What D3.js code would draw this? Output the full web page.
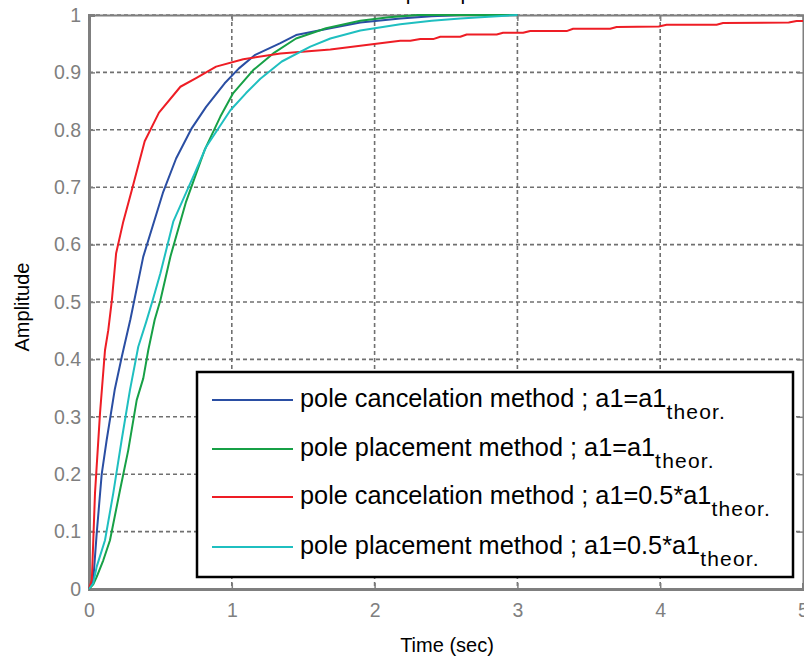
<!DOCTYPE html>
<html>
<head>
<meta charset="utf-8">
<script src="https://cdn.jsdelivr.net/npm/d3@7"></script>
<style>
  body { margin: 0; background: #fff; }
  svg { display: block; }
  text { font-family: "Liberation Sans", Arial, Helvetica, sans-serif; }
</style>
</head>
<body>
<svg width="804" height="657"></svg>
<script>
// time / amplitude
const blueT  = [0, 0.03, 0.054, 0.089, 0.124, 0.18, 0.23, 0.29, 0.38, 0.52, 0.61, 0.72, 0.82, 0.95, 1.05, 1.16, 1.34, 1.45, 1.69, 1.9, 2.18, 2.4, 2.6, 3.0];
const blueY  = [0, 0.016, 0.097, 0.2, 0.26, 0.347, 0.405, 0.47, 0.579, 0.692, 0.75, 0.803, 0.84, 0.881, 0.907, 0.93, 0.951, 0.965, 0.977, 0.987, 0.994, 0.998, 1.0, 1.0];

const greenT = [0, 0.03, 0.054, 0.1, 0.147, 0.217, 0.275, 0.334, 0.38, 0.415, 0.46, 0.5, 0.57, 0.68, 0.81, 0.92, 1.01, 1.15, 1.29, 1.45, 1.66, 1.9, 2.1, 2.3, 2.6, 3.0];
const greenY = [0, 0.008, 0.021, 0.05, 0.085, 0.172, 0.242, 0.329, 0.367, 0.416, 0.469, 0.503, 0.579, 0.675, 0.765, 0.823, 0.864, 0.904, 0.933, 0.959, 0.977, 0.99, 0.996, 1.0, 1.0, 1.0];

const redT   = [0, 0.02, 0.042, 0.077, 0.112, 0.135, 0.16, 0.19, 0.24, 0.30, 0.39, 0.49, 0.64, 0.75, 0.89, 1.08, 1.34, 1.69, 2.18, 2.25, 2.32, 2.41, 2.46, 2.60, 2.645, 2.855, 2.90, 3.04, 3.09, 3.345, 3.39, 3.65, 3.695, 3.99, 4.045, 4.395, 4.44, 4.90, 4.955, 5.0];
const redY   = [0, 0.016, 0.167, 0.306, 0.416, 0.451, 0.503, 0.585, 0.64, 0.695, 0.78, 0.83, 0.875, 0.89, 0.91, 0.923, 0.933, 0.94, 0.955, 0.955, 0.958, 0.958, 0.962, 0.962, 0.966, 0.966, 0.969, 0.969, 0.972, 0.972, 0.976, 0.976, 0.979, 0.980, 0.983, 0.983, 0.986, 0.987, 0.9895, 0.9895];

const cyanT  = [0, 0.03, 0.054, 0.112, 0.17, 0.229, 0.287, 0.345, 0.40, 0.446, 0.5, 0.59, 0.74, 0.82, 0.99, 1.1, 1.2, 1.35, 1.55, 1.69, 1.9, 2.18, 2.4, 2.6, 2.8, 3.0];
const cyanY  = [0, 0.01, 0.039, 0.085, 0.167, 0.26, 0.347, 0.422, 0.465, 0.503, 0.55, 0.64, 0.724, 0.77, 0.834, 0.864, 0.889, 0.919, 0.945, 0.959, 0.973, 0.984, 0.99, 0.994, 0.997, 1.0];

const xTicks = [0, 1, 2, 3, 4, 5];
const yTicks = [0, 0.1, 0.2, 0.3, 0.4, 0.5, 0.6, 0.7, 0.8, 0.9, 1];

const legendMain = [
  "pole cancelation method ; a1=a1",
  "pole placement method ; a1=a1",
  "pole cancelation method ; a1=0.5*a1",
  "pole placement method ; a1=0.5*a1"
];
const legendSub = "theor.";

const series = [
  { t: blueT,  y: blueY,  color: "#2a4ea3" },
  { t: greenT, y: greenY, color: "#17a046" },
  { t: redT,   y: redY,   color: "#ee1d25" },
  { t: cyanT,  y: cyanY,  color: "#1fbfc0" }
];

const svg = d3.select("svg");
const pLeft = 89, pRight = 803, pTop = 15, pBottom = 589;

const x = d3.scaleLinear().domain([0, 5]).range([pLeft, pRight]);
const y = d3.scaleLinear().domain([0, 1]).range([pBottom, pTop]);

// grid
const grid = svg.append("g").attr("stroke", "#707070").attr("stroke-width", 1.6).attr("stroke-dasharray", "4,3");
grid.selectAll("line.v").data(xTicks.slice(1, -1)).enter().append("line")
  .attr("x1", d => x(d)).attr("x2", d => x(d)).attr("y1", pTop).attr("y2", pBottom);
grid.selectAll("line.h").data(yTicks.slice(1)).enter().append("line")
  .attr("x1", pLeft).attr("x2", pRight).attr("y1", d => y(d)).attr("y2", d => y(d));

// axes
const axisColor = "#7f7f7f";
const xAxis = svg.append("g").attr("transform", `translate(0,${pBottom})`)
  .call(d3.axisBottom(x).tickValues(xTicks).tickSize(-6).tickPadding(14).tickFormat(d3.format("d")));
const yAxis = svg.append("g").attr("transform", `translate(${pLeft},0)`)
  .call(d3.axisLeft(y).tickValues(yTicks).tickSize(-6).tickPadding(8).tickFormat(d => d === 0 || d === 1 ? d : d.toFixed(1)));
svg.append("g").attr("transform", `translate(0,${pTop})`)
  .call(d3.axisTop(x).tickValues(xTicks).tickSize(-6).tickFormat(""));
svg.append("g").attr("transform", `translate(${pRight},0)`)
  .call(d3.axisRight(y).tickValues(yTicks).tickSize(-6).tickFormat(""));

svg.selectAll(".domain").attr("stroke", axisColor).attr("stroke-width", 2);
svg.selectAll(".tick line").attr("stroke", axisColor).attr("stroke-width", 1.5);
xAxis.select(".domain").attr("stroke-width", 3);
yAxis.select(".domain").attr("stroke-width", 3);
svg.selectAll(".tick text").attr("fill", "#7f7f7f").attr("font-size", 19.5)
  .attr("font-family", "'Liberation Sans', Arial, sans-serif");

// title (mostly cut off at the top edge, as in the source)
svg.append("text").attr("x", 446).attr("y", 0).attr("text-anchor", "middle")
  .attr("font-size", 21).attr("fill", "#000").text("Step Response");

// curves
const line = d3.line().x(d => x(d[0])).y(d => y(d[1]));
series.forEach(s => {
  svg.append("path")
    .datum(s.t.map((t, i) => [t, s.y[i]]))
    .attr("fill", "none")
    .attr("stroke", s.color)
    .attr("stroke-width", 2)
    .attr("stroke-linejoin", "round")
    .attr("d", line);
});

// axis labels
svg.append("text").attr("x", 447).attr("y", 652).attr("text-anchor", "middle")
  .attr("font-size", 20).attr("fill", "#000").text("Time (sec)");
svg.append("text").attr("transform", "translate(29,307) rotate(-90)").attr("text-anchor", "middle")
  .attr("font-size", 20).attr("fill", "#000").text("Amplitude");

// legend
const lg = svg.append("g");
lg.append("rect").attr("x", 197).attr("y", 372).attr("width", 596).attr("height", 205)
  .attr("fill", "#fff").attr("stroke", "#000").attr("stroke-width", 2.5);
const rowY = [400, 449, 497, 547];
series.forEach((s, i) => {
  lg.append("line").attr("x1", 212).attr("x2", 293).attr("y1", rowY[i]).attr("y2", rowY[i])
    .attr("stroke", s.color).attr("stroke-width", 2);
  const t = lg.append("text").attr("x", 300).attr("y", rowY[i] + 7).attr("font-size", 25.3).attr("fill", "#000");
  t.append("tspan").text(legendMain[i]);
  t.append("tspan").attr("dy", 12).attr("font-size", 21).attr("letter-spacing", 1.2).text(legendSub);
});
</script>
</body>
</html>
